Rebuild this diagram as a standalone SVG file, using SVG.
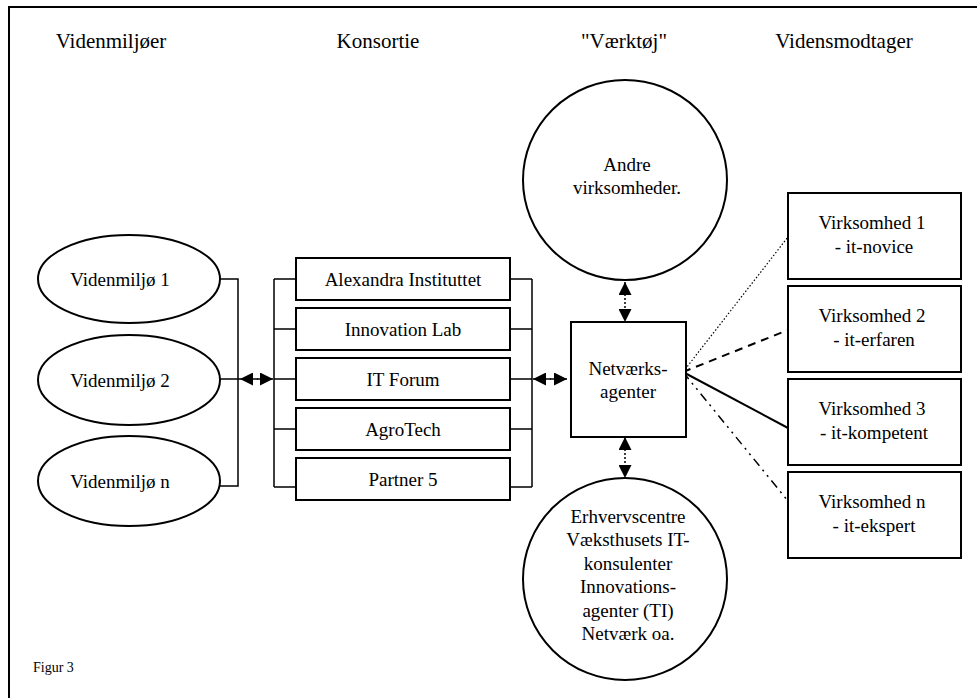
<svg xmlns="http://www.w3.org/2000/svg" width="977" height="698" viewBox="0 0 977 698">
<style>
.s{fill:#fff;stroke:#000;stroke-width:2}
.t{fill:none;stroke:#000;stroke-width:1.5}
</style>
<defs>
<marker id="ah" viewBox="0 0 10 10" refX="10" refY="5" markerWidth="16" markerHeight="13" markerUnits="userSpaceOnUse" orient="auto-start-reverse">
<path d="M0,0 L10,5 L0,10 z" fill="#000"/>
</marker>
</defs>
<rect width="977" height="698" fill="#fff"/>
<path d="M9,698 V7 H977" fill="none" stroke="#000" stroke-width="2"/>
<g font-family="Liberation Serif, Times New Roman, serif" font-size="19" text-anchor="middle" fill="#000">
<g id="headers" font-size="21">
<text x="111" y="48">Videnmiljøer</text>
<text x="378" y="48">Konsortie</text>
<text x="624" y="48">"Værktøj"</text>
<text x="844" y="48">Vidensmodtager</text>
</g>
<g id="connectors">
<path class="t" d="M220,279 H238 V486 H220 M220,379 H240 M274,279 V487 M274,279 H296 M274,329 H296 M274,379 H296 M274,429 H296 M274,487 H296 M532,279 V487 M510,279 H532 M510,329 H532 M510,379 H532 M510,429 H532 M510,487 H532"/>
<path class="t" d="M240,379 H258" marker-start="url(#ah)"/>
<path class="t" d="M257,379 H273" marker-end="url(#ah)"/>
<path class="t" d="M533,379 H551" marker-start="url(#ah)"/>
<path class="t" d="M550,379 H567" marker-end="url(#ah)"/>
<path class="t" d="M625,282 V322" stroke-dasharray="2 2" marker-start="url(#ah)" marker-end="url(#ah)"/>
<path class="t" d="M625,437 V478" stroke-dasharray="2 2" marker-start="url(#ah)" marker-end="url(#ah)"/>
<path d="M683,372 L788,237" fill="none" stroke="#000" stroke-width="1.2" stroke-dasharray="1.5 2"/>
<path d="M683,372 L788,330" fill="none" stroke="#000" stroke-width="2" stroke-dasharray="8 6"/>
<path d="M683,372 L788,428" fill="none" stroke="#000" stroke-width="2"/>
<path d="M683,372 L788,501" fill="none" stroke="#000" stroke-width="1.5" stroke-dasharray="9 5 2 5 2 5"/>
</g>
<g id="videnmiljo1"><ellipse class="s" cx="129" cy="279" rx="91" ry="44"/><text x="120" y="286">Videnmiljø 1</text></g>
<g id="videnmiljo2"><ellipse class="s" cx="129" cy="380" rx="91" ry="45"/><text x="120" y="387">Videnmiljø 2</text></g>
<g id="videnmiljon"><ellipse class="s" cx="129" cy="481" rx="91" ry="45"/><text x="120" y="488">Videnmiljø n</text></g>
<g id="alexandra"><rect class="s" x="296" y="258" width="214" height="42"/><text x="403" y="286">Alexandra Instituttet</text></g>
<g id="innovationlab"><rect class="s" x="296" y="308" width="214" height="42"/><text x="403" y="336">Innovation Lab</text></g>
<g id="itforum"><rect class="s" x="296" y="358" width="214" height="42"/><text x="403" y="386">IT Forum</text></g>
<g id="agrotech"><rect class="s" x="296" y="408" width="214" height="42"/><text x="403" y="436">AgroTech</text></g>
<g id="partner5"><rect class="s" x="296" y="458" width="214" height="42"/><text x="403" y="486">Partner 5</text></g>
<g id="andre"><ellipse class="s" cx="625" cy="180" rx="102" ry="100"/><text x="627" y="171">Andre</text><text x="627" y="194">virksomheder.</text></g>
<g id="netvaerk"><rect class="s" x="571" y="322" width="115" height="115"/><text x="628" y="375">Netværks-</text><text x="628" y="398">agenter</text></g>
<g id="erhverv"><ellipse class="s" cx="625" cy="579" rx="102" ry="101"/>
<text x="628" y="523">Erhvervscentre</text><text x="628" y="546">Væksthusets IT-</text><text x="628" y="570">konsulenter</text><text x="628" y="593">Innovations-</text><text x="628" y="617">agenter (TI)</text><text x="628" y="640">Netværk oa.</text></g>
<g id="virk1"><rect class="s" x="788" y="193" width="173" height="86"/><text x="872" y="229">Virksomhed 1</text><text x="874" y="253">- it-novice</text></g>
<g id="virk2"><rect class="s" x="788" y="286" width="173" height="86"/><text x="872" y="322">Virksomhed 2</text><text x="874" y="346">- it-erfaren</text></g>
<g id="virk3"><rect class="s" x="788" y="379" width="173" height="86"/><text x="872" y="415">Virksomhed 3</text><text x="874" y="439">- it-kompetent</text></g>
<g id="virkn"><rect class="s" x="788" y="472" width="173" height="86"/><text x="872" y="508">Virksomhed n</text><text x="874" y="532">- it-ekspert</text></g>
<text x="33" y="672" font-size="14" text-anchor="start">Figur 3</text>
</g>
</svg>
